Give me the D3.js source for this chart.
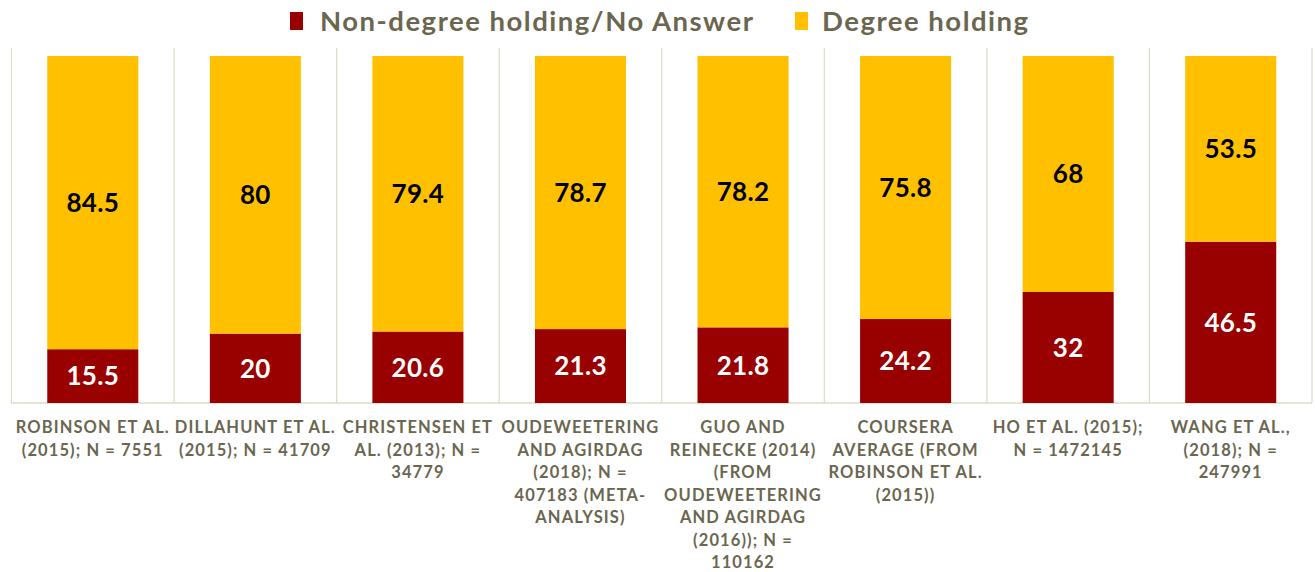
<!DOCTYPE html>
<html>
<head>
<meta charset="utf-8">
<script src="https://cdn.jsdelivr.net/npm/d3@7"></script>
<style>
  html, body { margin: 0; padding: 0; background: #ffffff; }
  svg { display: block; }
  text { font-family: Lato, "Open Sans", sans-serif; font-weight: 700; }
</style>
</head>
<body>
<svg id="chart" width="1315" height="572"></svg>
<script>
// Studies (category labels, pre-wrapped into lines)
const categories = [
  ["ROBINSON ET AL.", "(2015); N = 7551"],
  ["DILLAHUNT ET AL.", "(2015); N = 41709"],
  ["CHRISTENSEN ET", "AL. (2013); N =", "34779"],
  ["OUDEWEETERING", "AND AGIRDAG", "(2018); N =", "407183 (META-", "ANALYSIS)"],
  ["GUO AND", "REINECKE (2014)", "(FROM", "OUDEWEETERING", "AND AGIRDAG", "(2016)); N =", "110162"],
  ["COURSERA", "AVERAGE (FROM", "ROBINSON ET AL.", "(2015))"],
  ["HO ET AL. (2015);", "N = 1472145"],
  ["WANG ET AL.,", "(2018); N =", "247991"]
];
const seriesNames = ["Non-degree holding/No Answer", "Degree holding"];
const nonDegree = [15.5, 20, 20.6, 21.3, 21.8, 24.2, 32, 46.5];
const degree    = [84.5, 80, 79.4, 78.7, 78.2, 75.8, 68, 53.5];

const colors = ["#990000", "#FFC000"];
const labelColors = ["#ffffff", "#000000"];
const axisText = "#6b6650";
const gridColor = "#dcdcc6";

const svg = d3.select("#chart");
const plot = { left: 11.5, right: 1312, top: 56, bottom: 403 };

const idx = d3.range(categories.length);
const x = d3.scaleBand().domain(idx).range([plot.left, plot.right]).paddingInner(0).paddingOuter(0);
const y = d3.scaleLinear().domain([0, 100]).range([plot.bottom, plot.top]);
const barW = x.bandwidth() * 0.56;

// Category separators and baseline
const sepXs = idx.map(i => x(i)).concat([plot.right]);
svg.append("g").selectAll("line").data(sepXs).join("line")
  .attr("x1", d => d).attr("x2", d => d)
  .attr("y1", plot.top - 8).attr("y2", plot.bottom)
  .attr("stroke", gridColor).attr("stroke-width", 1.2);
svg.append("line")
  .attr("x1", plot.left).attr("x2", plot.right)
  .attr("y1", plot.bottom).attr("y2", plot.bottom)
  .attr("stroke", gridColor).attr("stroke-width", 1.5);

// Stacked data
const rows = idx.map(i => ({ i, v: [nonDegree[i], degree[i]] }));
const stack = d3.stack().keys([0, 1]).value((d, k) => d.v[k]);
const layers = stack(rows);

const bars = svg.append("g");
layers.forEach((layer, k) => {
  const g = bars.append("g");
  g.selectAll("rect").data(layer).join("rect")
    .attr("x", d => x(d.data.i) + (x.bandwidth() - barW) / 2)
    .attr("width", barW)
    .attr("y", d => y(d[1]))
    .attr("height", d => y(d[0]) - y(d[1]))
    .attr("fill", colors[k]);
  g.selectAll("text").data(layer).join("text")
    .attr("x", d => x(d.data.i) + x.bandwidth() / 2)
    .attr("y", d => (y(d[0]) + y(d[1])) / 2)
    .attr("dy", "0.36em")
    .attr("text-anchor", "middle")
    .attr("font-size", 26)
    .attr("letter-spacing", 0.3)
    .attr("fill", labelColors[k])
    .text(d => d.data.v[k]);
});

// Category labels
const lab = svg.append("g");
categories.forEach((lines, i) => {
  const cx = x(i) + x.bandwidth() / 2;
  const t = lab.append("text")
    .attr("text-anchor", "middle")
    .attr("font-size", 16.5)
    .attr("letter-spacing", 1.1)
    .attr("fill", axisText);
  lines.forEach((ln, j) => {
    t.append("tspan").attr("x", cx).attr("y", 433 + j * 22.5).text(ln);
  });
});

// Legend
const legend = svg.append("g");
const legendItems = [
  { name: seriesNames[0], color: colors[0], sx: 290, tx: 320 },
  { name: seriesNames[1], color: colors[1], sx: 795, tx: 822 }
];
legendItems.forEach(it => {
  legend.append("rect").attr("x", it.sx).attr("y", 12).attr("width", 13).attr("height", 18).attr("fill", it.color);
  legend.append("text").attr("x", it.tx).attr("y", 31)
    .attr("font-size", 27.5).attr("letter-spacing", 1.5)
    .attr("fill", axisText).text(it.name);
});
</script>
</body>
</html>
